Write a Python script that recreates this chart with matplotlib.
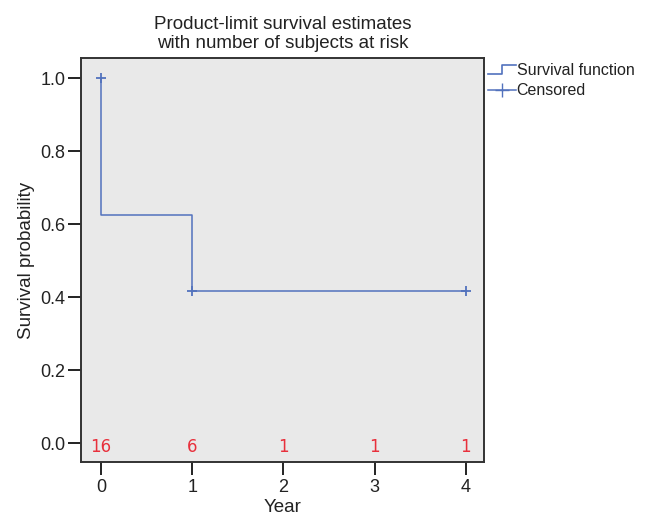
import matplotlib.pyplot as plt
from matplotlib.lines import Line2D
from matplotlib.legend_handler import HandlerBase

plt.rcParams["font.family"] = ["Liberation Sans", "DejaVu Sans"]

# Kaplan-Meier estimate
times = [0, 0, 1, 4]
surv = [1.0, 0.625, 0.417, 0.417]
censor_t = [0, 1, 4]
censor_s = [1.0, 0.417, 0.417]

risk_t = [0, 1, 2, 3, 4]
risk_n = [16, 6, 1, 1, 1]

line_col = "#5272bd"
risk_col = "#e8303c"
txt_col = "#222222"


class StepHandler(HandlerBase):
    def create_artists(self, legend, orig_handle, xdescent, ydescent,
                       width, height, fontsize, trans):
        x0 = -xdescent
        y0 = -ydescent
        xs = [x0, x0 + width * 0.5, x0 + width * 0.5, x0 + width]
        ys = [y0 + height * 0.1, y0 + height * 0.1, y0 + height * 0.9, y0 + height * 0.9]
        ln = Line2D(xs, ys, color=line_col, lw=1.2, transform=trans)
        return [ln]


fig = plt.figure(figsize=(6.49, 5.17), dpi=100)
ax = fig.add_axes([0.1248, 0.1064, 0.621, 0.7814])
ax.set_facecolor("#e9e9e9")

ax.step(times, surv, where="post", color=line_col, lw=1.1)
ax.plot(censor_t, censor_s, linestyle="none", marker="+", color=line_col,
        markersize=7, markeredgewidth=1.3)

for t, n in zip(risk_t, risk_n):
    ax.text(t, -0.012, str(n), color=risk_col, ha="center", va="center",
            fontsize=12, family=["DejaVu Sans"])

ax.set_xlim(-0.22, 4.2)
ax.set_ylim(-0.052, 1.055)
ax.set_xticks([0, 1, 2, 3, 4])
ax.set_yticks([0.0, 0.2, 0.4, 0.6, 0.8, 1.0])
ax.set_yticklabels(["0.0", "0.2", "0.4", "0.6", "0.8", "1.0"])
ax.tick_params(direction="out", length=9.5, width=1.4, labelsize=13, colors=txt_col)
ax.tick_params(axis="y", pad=1.5)
ax.tick_params(axis="x", pad=3)
for s in ax.spines.values():
    s.set_color("#333333")
    s.set_linewidth(1.4)

ax.set_xlabel("Year", fontsize=13.5, color=txt_col, labelpad=2)
ax.set_ylabel("Survival probability", fontsize=13.5, color=txt_col, labelpad=4)
ax.set_title("Product-limit survival estimates\nwith number of subjects at risk",
             fontsize=13.5, color=txt_col, pad=7)

h1 = Line2D([], [], color=line_col)
h2 = Line2D([], [], color=line_col, marker="+", markersize=10, lw=1.1)
leg = ax.legend([h1, h2], ["Survival function", "Censored"],
                handler_map={h1: StepHandler()},
                loc="upper left", bbox_to_anchor=(0.99, 1.008),
                frameon=False, fontsize=11.5, handlelength=1.75,
                handletextpad=0.05, borderaxespad=0.1, labelspacing=0.35)
for t in leg.get_texts():
    t.set_color(txt_col)

fig.savefig("out.png", dpi=100)
